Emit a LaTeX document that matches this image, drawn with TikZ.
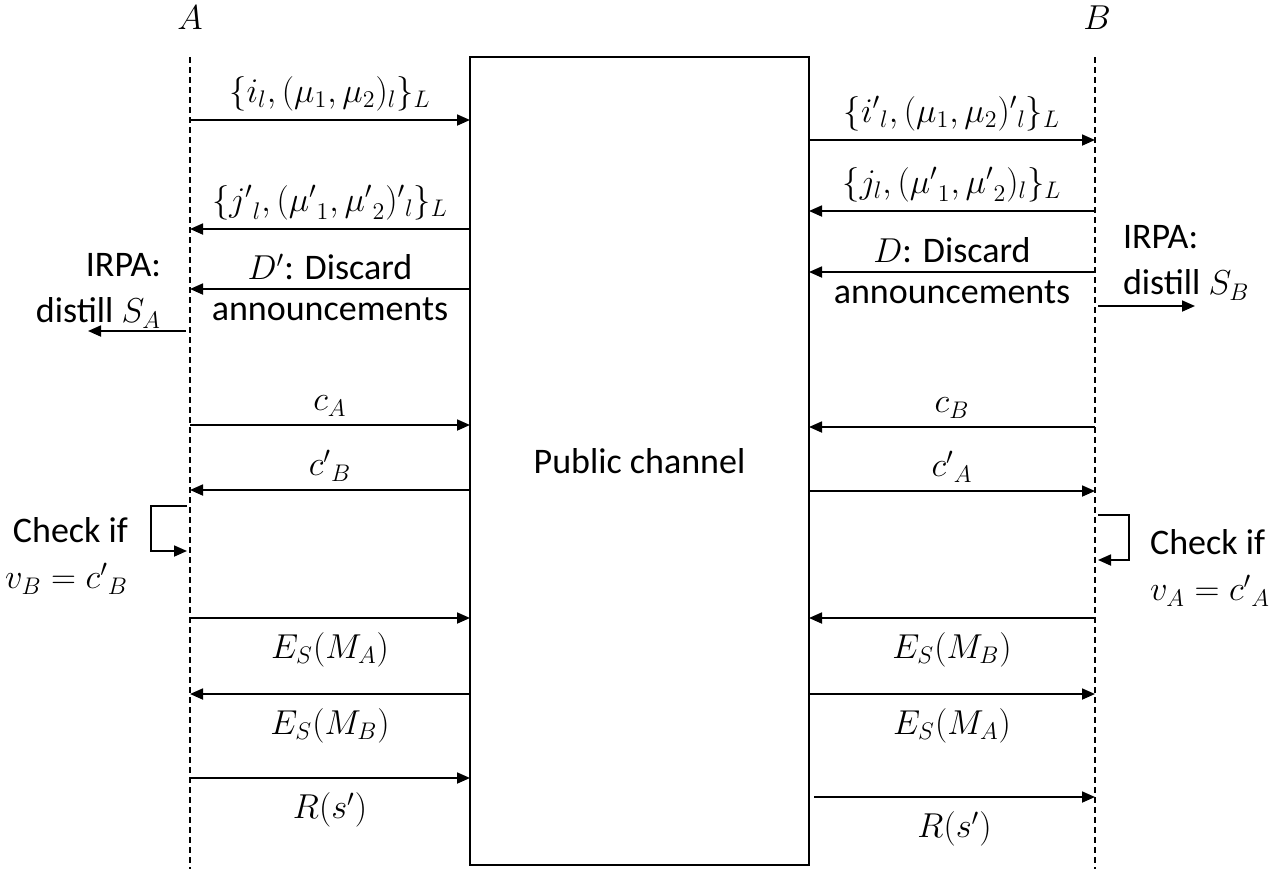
\documentclass[tikz,border=0pt]{standalone}
\usepackage{fontspec}
\setmainfont{Carlito}
\usetikzlibrary{arrows.meta}

\tikzset{
  msg/.style={draw, line width=0.9pt, -{Triangle[length=6.5pt,width=5.5pt]}},
  lifeline/.style={draw, line width=0.6pt, dash pattern=on 3pt off 2pt},
  up/.style={midway, above=3pt, inner sep=1pt},
  down/.style={midway, below=6pt, inner sep=1pt},
}

\begin{document}
\begin{tikzpicture}[x=0.5pt, y=-0.5pt, font=\fontsize{18}{23}\selectfont]
\useasboundingbox (0,0) rectangle (1271,869);

\node (A) at (190,18) {$A$};
\node (B) at (1097,18) {$B$};
\node[draw, line width=0.9pt, minimum width=169.5pt, minimum height=404pt, outer sep=0pt] (pc) at (639.5,461) {Public channel};

\coordinate (Atop) at (190,57);
\coordinate (Abot) at (190,869);
\coordinate (Btop) at (1095,57);
\coordinate (Bbot) at (1095,869);
\path[lifeline] (Atop) -- (Abot);
\path[lifeline] (Btop) -- (Bbot);

% left side
\coordinate (a1) at (190,120);
\coordinate (a2) at (190,229);
\coordinate (a3) at (190,289);
\coordinate (a5) at (190,425);
\coordinate (a6) at (190,490);
\coordinate (a8) at (190,618);
\coordinate (a9) at (190,694);
\coordinate (a10) at (190,778);

\path[msg] (a1) -- (a1 -| pc.west) node[up] {$\{i_l,(\mu_1,\mu_2)_l\}_L$};
\path[msg] (a2 -| pc.west) -- (a2) node[up] {$\{{j'}_l,({\mu'}_1,{\mu'}_2){'}_l\}_L$};
\path[msg] (a3 -| pc.west) -- (a3) node[up] {$D'$: Discard} node[midway, below=3pt, inner sep=1pt] {announcements};
\path[msg] (a5) -- (a5 -| pc.west) node[up] {$c_A$};
\path[msg] (a6 -| pc.west) -- (a6) node[up] {${c'}_B$};
\path[msg] (a8) -- (a8 -| pc.west) node[down] {$E_S(M_A)$};
\path[msg] (a9 -| pc.west) -- (a9) node[down] {$E_S(M_B)$};
\path[msg] (a10) -- (a10 -| pc.west) node[down] {$R(s')$};

\node[align=right, anchor=east] (irpaA) at (168,291) {IRPA:\\distill $S_A$};
\coordinate (irpaA1) at (186,331);
\coordinate (irpaA2) at (88,331);
\path[msg] (irpaA1) -- (irpaA2);

\node[align=right, anchor=east] (chkA) at (135,556) {Check if\\$v_B={c'}_B$};
\coordinate (chkA1) at (187,506);
\coordinate (chkA2) at (187,551);
\path[msg] (chkA1) -- ++(-36,0) |- (chkA2);

% right side
\coordinate (b1) at (1095,140);
\coordinate (b2) at (1095,211);
\coordinate (b3) at (1095,272);
\coordinate (b5) at (1095,427);
\coordinate (b6) at (1095,491);
\coordinate (b8) at (1095,618);
\coordinate (b9) at (1095,694);
\coordinate (b10) at (1095,797);
\coordinate (b10s) at (814,797);

\path[msg] (b1 -| pc.east) -- (b1) node[up] {$\{{i'}_l,(\mu_1,\mu_2){'}_l\}_L$};
\path[msg] (b2) -- (b2 -| pc.east) node[up] {$\{j_l,({\mu'}_1,{\mu'}_2)_l\}_L$};
\path[msg] (b3) -- (b3 -| pc.east) node[up] {$D$: Discard} node[midway, below=3pt, inner sep=1pt] {announcements};
\path[msg] (b5) -- (b5 -| pc.east) node[up] {$c_B$};
\path[msg] (b6 -| pc.east) -- (b6) node[up] {${c'}_A$};
\path[msg] (b8) -- (b8 -| pc.east) node[down] {$E_S(M_B)$};
\path[msg] (b9 -| pc.east) -- (b9) node[down] {$E_S(M_A)$};
\path[msg] (b10s) -- (b10) node[down] {$R(s')$};

\node[align=left, anchor=west] (irpaB) at (1116,263) {IRPA:\\distill $S_B$};
\coordinate (irpaB1) at (1098,306);
\coordinate (irpaB2) at (1195,306);
\path[msg] (irpaB1) -- (irpaB2);

\node[align=left, anchor=west] (chkB) at (1143,568) {Check if\\$v_A={c'}_A$};
\coordinate (chkB1) at (1098,515);
\coordinate (chkB2) at (1098,560);
\path[msg] (chkB1) -- ++(31,0) |- (chkB2);
\end{tikzpicture}
\end{document}
